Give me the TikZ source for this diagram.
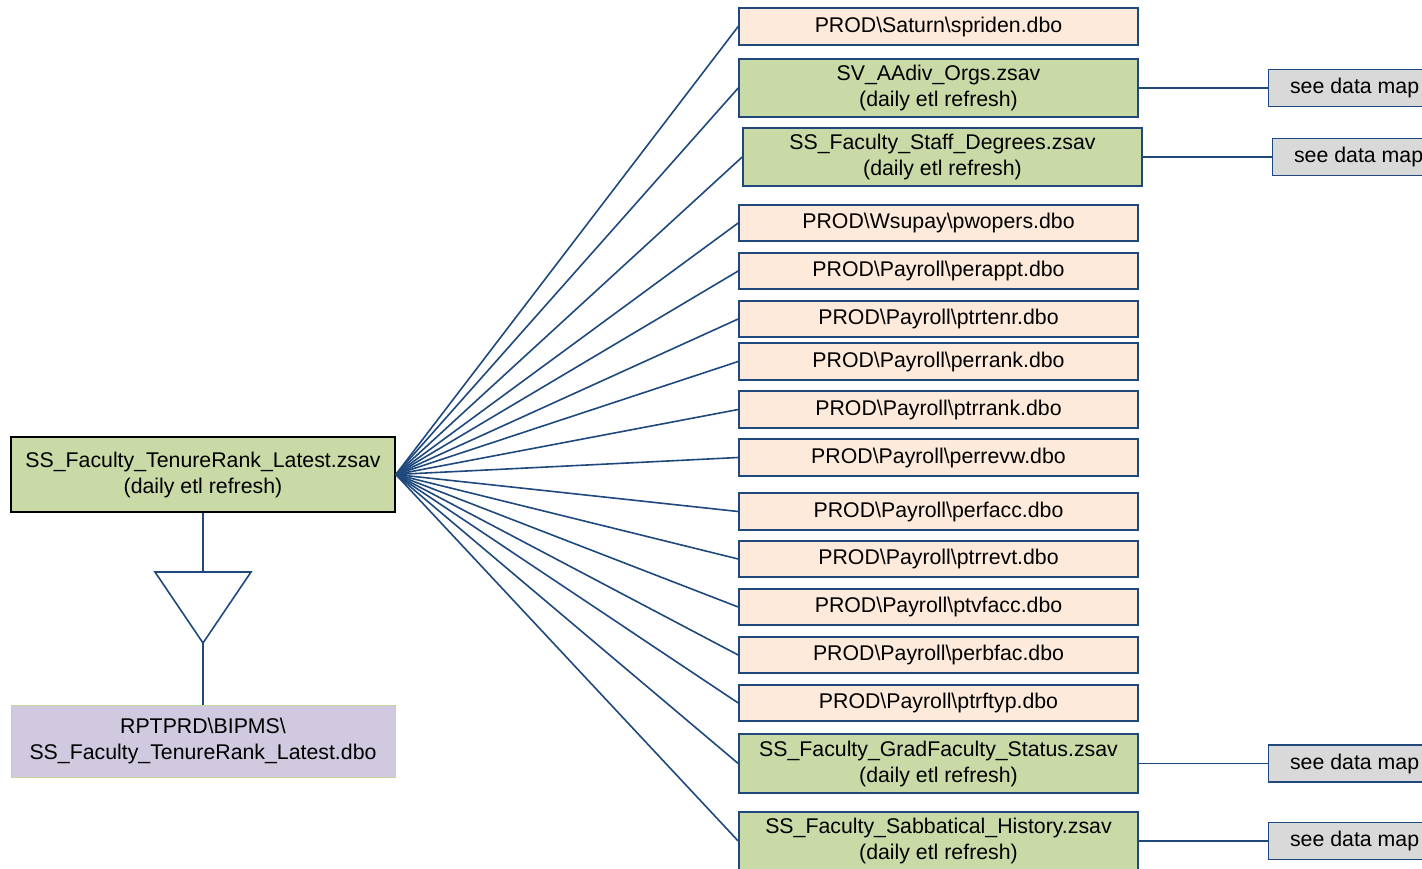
\documentclass[tikz,border=0pt]{standalone}
\usepackage{fontspec}
\setmainfont{Liberation Sans}
\usepackage{xcolor}
\usepackage{tikz}
\usetikzlibrary{positioning}
\definecolor{navy}{HTML}{1F497D}
\definecolor{peach}{HTML}{FDEADA}
\definecolor{leaf}{HTML}{C9DAA7}
\definecolor{lilac}{HTML}{D1C9DF}
\definecolor{mist}{HTML}{D9D9D9}
\definecolor{rim}{HTML}{C3D69B}
\newcommand{\bsl}{\textbackslash}
\tikzset{
  txt/.style={font=\fontsize{21.3}{26}\selectfont, inner sep=0pt, align=center},
  dbobox/.style={txt, draw=navy, line width=1.6pt, fill=peach, minimum width=399pt, minimum height=37pt},
  zsavbox/.style={txt, draw=navy, line width=1.6pt, fill=leaf, minimum width=399pt, minimum height=58pt},
  mapbox/.style={txt, draw=navy, line width=1.6pt, fill=mist, minimum width=172pt, minimum height=37pt},
  link/.style={draw=navy, line width=1.6pt}
}

\begin{document}
\begin{tikzpicture}[x=1pt, y=-1pt]
        \clip (0,0) rectangle (1422,869);
        % Target table and its source view
        \node[txt, draw=black, line width=1.6pt, fill=leaf, minimum width=384pt, minimum height=75pt] (main) at (203,474.5)
          {SS\_Faculty\_TenureRank\_Latest.zsav\\(daily etl refresh)};
        \node[txt, draw=rim, line width=1pt, fill=lilac, minimum width=384pt, minimum height=72pt, below=192pt of main] (rptprd)
          {RPTPRD\bsl BIPMS\bsl\\SS\_Faculty\_TenureRank\_Latest.dbo};
        % Merge triangle
        \coordinate (tritop) at (203,572);
        \coordinate (triapex) at (203,643);
        \draw[link, line join=miter] (155,572) -- (251,572) -- (triapex) -- cycle;
        \draw[link] (main.south) -- (tritop);
        \draw[link] (triapex) -- (rptprd.north);
        % Sources
        \node[dbobox] (spriden) at (938.5,26.5) {PROD\bsl Saturn\bsl spriden.dbo};
        \node[zsavbox] (aadiv) at (938.5,88) {SV\_AAdiv\_Orgs.zsav\\(daily etl refresh)};
        \node[zsavbox] (degrees) at (942.5,157) {SS\_Faculty\_Staff\_Degrees.zsav\\(daily etl refresh)};
        \node[dbobox, minimum height=36pt] (pwopers) at (938.5,223) {PROD\bsl Wsupay\bsl pwopers.dbo};
        \node[dbobox, minimum height=36pt] (perappt) at (938.5,271) {PROD\bsl Payroll\bsl perappt.dbo};
        \node[dbobox, minimum height=36pt] (ptrtenr) at (938.5,319) {PROD\bsl Payroll\bsl ptrtenr.dbo};
        \node[dbobox] (perrank) at (938.5,361.5) {PROD\bsl Payroll\bsl perrank.dbo};
        \node[dbobox] (ptrrank) at (938.5,409.5) {PROD\bsl Payroll\bsl ptrrank.dbo};
        \node[dbobox] (perrevw) at (938.5,457.5) {PROD\bsl Payroll\bsl perrevw.dbo};
        \node[dbobox] (perfacc) at (938.5,511.5) {PROD\bsl Payroll\bsl perfacc.dbo};
        \node[dbobox, minimum height=36pt] (ptrrevt) at (938.5,559) {PROD\bsl Payroll\bsl ptrrevt.dbo};
        \node[dbobox, minimum height=36pt] (ptvfacc) at (938.5,607) {PROD\bsl Payroll\bsl ptvfacc.dbo};
        \node[dbobox, minimum height=36pt] (perbfac) at (938.5,655) {PROD\bsl Payroll\bsl perbfac.dbo};
        \node[dbobox, minimum height=36pt] (ptrftyp) at (938.5,703) {PROD\bsl Payroll\bsl ptrftyp.dbo};
        \node[zsavbox, minimum height=59pt] (gradfac) at (938.5,763.5) {SS\_Faculty\_GradFaculty\_Status.zsav\\(daily etl refresh)};
        \node[zsavbox] (sabbat) at (938.5,841) {SS\_Faculty\_Sabbatical\_History.zsav\\(daily etl refresh)};
        % Data map pointers
        \node[mapbox, right=129pt of aadiv] (mapaadiv) {see data map};
        \node[mapbox, right=129pt of degrees] (mapdegrees) {see data map};
        \node[mapbox, right=129pt of gradfac] (mapgradfac) {see data map};
        \node[mapbox, right=129pt of sabbat] (mapsabbat) {see data map};
        \draw[link] (aadiv.east) -- (mapaadiv.west);
        \draw[link] (degrees.east) -- (mapdegrees.west);
        \draw[link] (gradfac.east) -- (mapgradfac.west);
        \draw[link] (sabbat.east) -- (mapsabbat.west);
        % Fan of source links
        \draw[link] (main.east) -- (spriden.west);
        \draw[link] (main.east) -- (aadiv.west);
        \draw[link] (main.east) -- (degrees.west);
        \draw[link] (main.east) -- (pwopers.west);
        \draw[link] (main.east) -- (perappt.west);
        \draw[link] (main.east) -- (ptrtenr.west);
        \draw[link] (main.east) -- (perrank.west);
        \draw[link] (main.east) -- (ptrrank.west);
        \draw[link] (main.east) -- (perrevw.west);
        \draw[link] (main.east) -- (perfacc.west);
        \draw[link] (main.east) -- (ptrrevt.west);
        \draw[link] (main.east) -- (ptvfacc.west);
        \draw[link] (main.east) -- (perbfac.west);
        \draw[link] (main.east) -- (ptrftyp.west);
        \draw[link] (main.east) -- (gradfac.west);
        \draw[link] (main.east) -- (sabbat.west);
      \end{tikzpicture}
\end{document}
